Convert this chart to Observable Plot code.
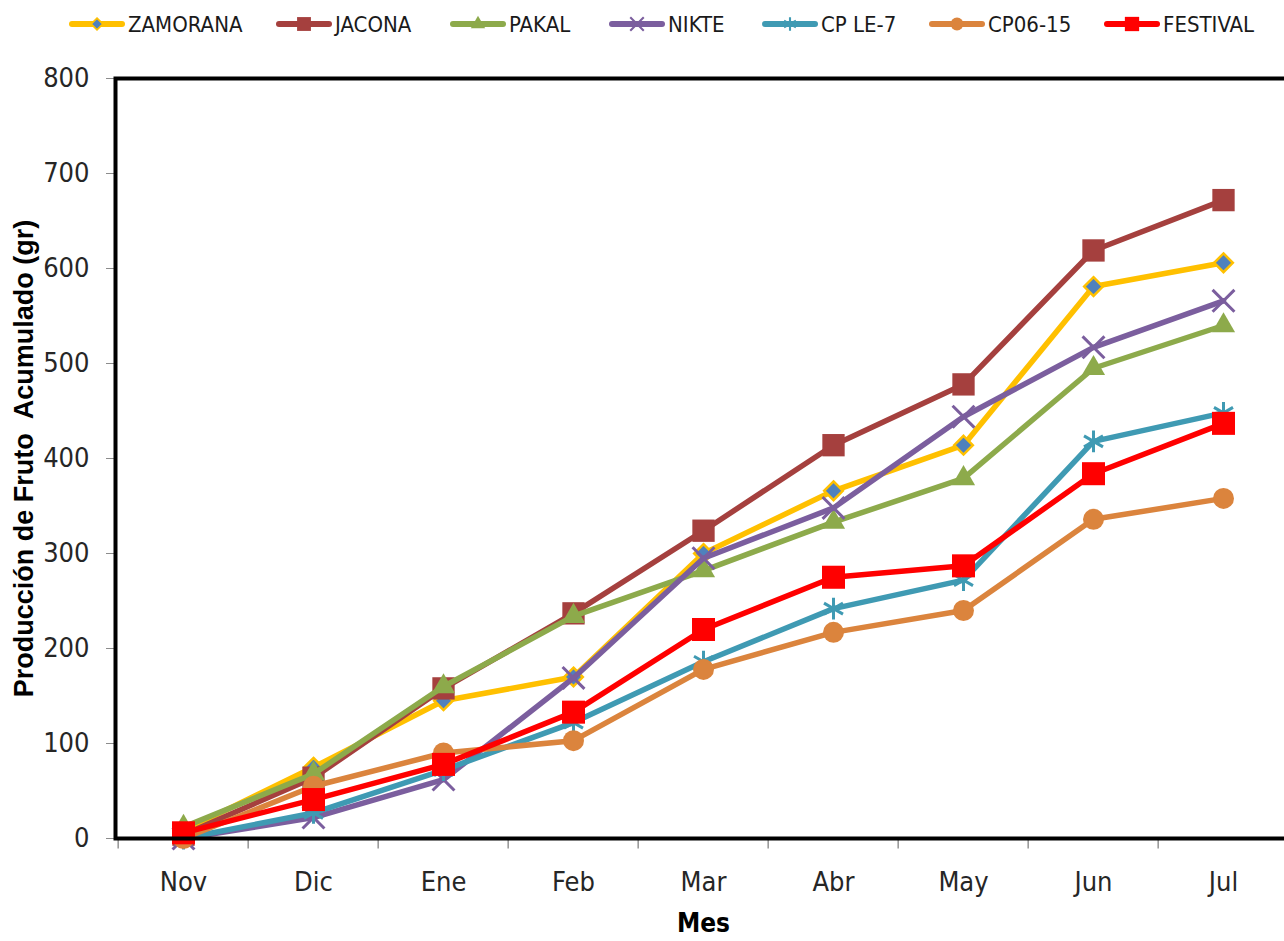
<!DOCTYPE html>
<html>
<head>
<meta charset="utf-8">
<script src="https://cdn.jsdelivr.net/npm/d3@7"></script>
<script src="https://cdn.jsdelivr.net/npm/@observablehq/plot@0.6"></script>
<style>
  body { margin: 0; background: #fff; font-family: "Liberation Sans Narrow", "Arial Narrow", "DejaVu Sans Condensed", sans-serif; }
  #legend { position: relative; width: 1284px; height: 48px; }
  .item { position: absolute; top: 9px; height: 30px; display: flex; align-items: center; font-size: 22px; color: #1a1a1a; white-space: nowrap; }
  .item svg { margin-right: 3px; }
</style>
</head>
<body>
<div id="legend"></div>
<div id="chart"></div>
<script>
// Months of the harvest season
const months = ["Nov", "Dic", "Ene", "Feb", "Mar", "Abr", "May", "Jun", "Jul"];

// Accumulated fruit production (g) per variety
const zamorana = [8, 75, 145, 170, 300, 366, 414, 581, 606];
const jacona   = [4, 64, 158, 237, 324, 414, 478, 619, 672];
const pakal    = [12, 68, 160, 234, 282, 333, 379, 495, 540];
const nikte    = [0, 22, 62, 169, 295, 348, 444, 517, 566];
const cpLe7    = [0, 27, 72, 122, 186, 242, 272, 418, 448];
const cp0615   = [0, 55, 90, 103, 178, 217, 240, 336, 358];
const festival = [6, 41, 78, 133, 220, 275, 287, 384, 437];

const yTicks = [0, 100, 200, 300, 400, 500, 600, 700, 800];

const series = [
  {name: "ZAMORANA", values: zamorana, line: "#FFC000", symbol: "diamond2", r: 8.4, fill: "#4F81BD", stroke: "#FFC000", sw: 2.5, legendX: 69},
  {name: "JACONA",   values: jacona,   line: "#A5403E", symbol: "square",   r: 12.6, fill: "#A5403E", stroke: "none", sw: 0, legendX: 276},
  {name: "PAKAL",    values: pakal,    line: "#8DAA4B", symbol: "triangle", r: 8.6, fill: "#8DAA4B", stroke: "none", sw: 0, legendX: 450},
  {name: "NIKTE",    values: nikte,    line: "#7B5E9E", symbol: "times",    r: 10, fill: "none", stroke: "#7B5E9E", sw: 3, legendX: 609},
  {name: "CP LE-7",  values: cpLe7,    line: "#3F9AB3", symbol: "asterisk", r: 10.4, fill: "none", stroke: "#3F9AB3", sw: 3, legendX: 762},
  {name: "CP06-15",  values: cp0615,   line: "#DB843D", symbol: "circle",   r: 10.5, fill: "#DB843D", stroke: "none", sw: 0, legendX: 929},
  {name: "FESTIVAL", values: festival, line: "#FF0000", symbol: "square",   r: 13, fill: "#FF0000", stroke: "none", sw: 0, legendX: 1104}
];

const symbolTypes = {
  diamond2: d3.symbolDiamond2, square: d3.symbolSquare, triangle: d3.symbolTriangle,
  times: d3.symbolTimes, asterisk: d3.symbolAsterisk, circle: d3.symbolCircle
};

// Legend row
const legend = d3.select("#legend");
for (const s of series) {
  const item = legend.append("div").attr("class", "item").style("left", s.legendX + "px");
  const sw = item.append("svg").attr("width", 56).attr("height", 30);
  sw.append("line").attr("x1", 3).attr("x2", 53).attr("y1", 15).attr("y2", 15)
    .attr("stroke", s.line).attr("stroke-width", 6).attr("stroke-linecap", "round");
  const rr = s.r * 0.62;
  sw.append("path")
    .attr("transform", "translate(28,15)")
    .attr("d", d3.symbol(symbolTypes[s.symbol], Math.PI * rr * rr)())
    .attr("fill", s.fill).attr("stroke", s.stroke).attr("stroke-width", s.sw * 0.7);
  item.append("span").text(s.name);
}

// Chart
const width = 1284, height = 893;
const marginLeft = 115, marginRight = -7, marginTop = 30, marginBottom = 103;
const step = (width - marginLeft - marginRight) / months.length;

const marks = [
  // category boundary ticks under the x axis
  Plot.ruleX(months, {x: d => d, dx: -step / 2, y1: 0, y2: -11, stroke: "#8c8c8c", strokeWidth: 1.4}),
  Plot.axisY({ticks: yTicks, tickSize: 9, tickPadding: 17, stroke: "#8c8c8c", fill: "#262626", fontSize: 27, label: null}),
  Plot.axisX({tickSize: 0, tickPadding: 33, fill: "#262626", fontSize: 27, label: null})
];

for (const s of series) {
  const rows = months.map((m, i) => ({month: m, value: s.values[i]}));
  marks.push(Plot.line(rows, {x: "month", y: "value", stroke: s.line, strokeWidth: 5.5, strokeLinejoin: "round", strokeLinecap: "round"}));
  marks.push(Plot.dot(rows, {x: "month", y: "value", symbol: s.symbol, r: s.r, fill: s.fill, stroke: s.stroke, strokeWidth: s.sw}));
}

marks.push(Plot.frame({stroke: "#000", strokeWidth: 4}));
marks.push(Plot.text(["Producción de Fruto  Acumulado (gr)"], {
  frameAnchor: "left", dx: -91, rotate: -90, textAnchor: "middle", lineAnchor: "middle",
  fontSize: 27, fontWeight: "bold", fontFamily: "Liberation Sans", fill: "#000"
}));
marks.push(Plot.text(["Mes"], {
  frameAnchor: "bottom", dy: 85, textAnchor: "middle", lineAnchor: "middle",
  fontSize: 26, fontWeight: "bold", fill: "#000"
}));

const chart = Plot.plot({
  width, height, marginLeft, marginRight, marginTop, marginBottom,
  style: {fontFamily: '"Liberation Sans Narrow", "Arial Narrow", "DejaVu Sans Condensed", sans-serif', fontSize: "27px", background: "#fff"},
  x: {type: "point", domain: months, padding: 0.5},
  y: {domain: [0, 800]},
  marks
});
d3.select(chart).selectAll("text").style("white-space", "pre");
document.getElementById("chart").appendChild(chart);
</script>
</body>
</html>
